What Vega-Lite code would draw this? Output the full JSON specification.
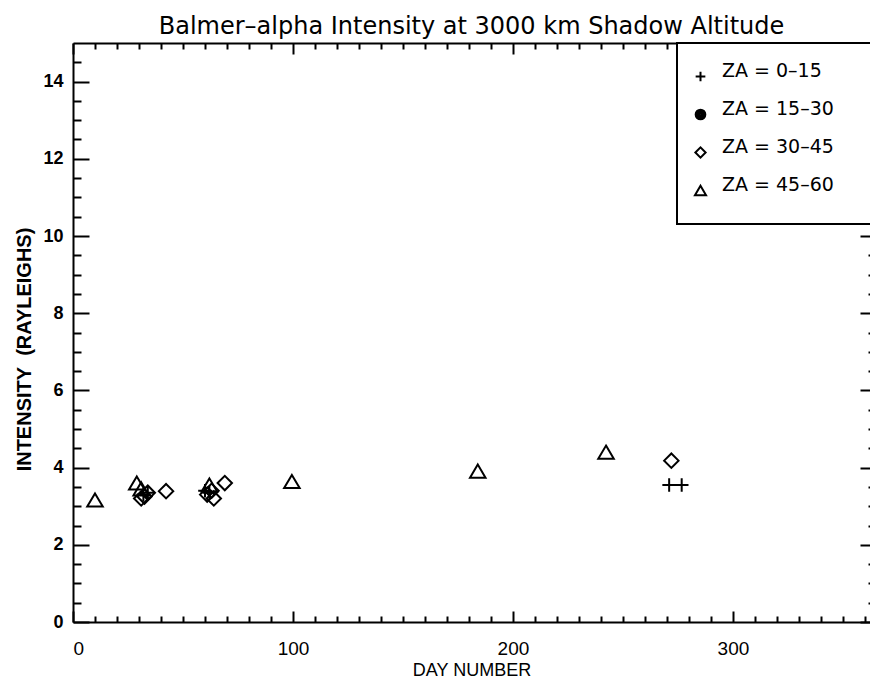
{
  "$schema": "https://vega.github.io/schema/vega-lite/v6.json",
  "width": 797,
  "height": 579,
  "autosize": {"type": "none"},
  "padding": {"left": 73, "top": 43, "right": 0, "bottom": 56},
  "background": "white",
  "title": {
    "text": "Balmer–alpha Intensity at 3000 km Shadow Altitude",
    "font": "DejaVu Sans", "fontSize": 24, "fontWeight": "normal",
    "anchor": "middle", "baseline": "alphabetic", "offset": -16, "color": "black"
  },
  "config": {
    "view": {"stroke": null},
    "axis": {"grid": false, "domainColor": "black", "domainWidth": 2, "tickColor": "black", "tickWidth": 2, "labelColor": "black", "titleColor": "black"},
    "legend": {"strokeWidth": 2}
  },
  "data": {
    "values": [
      {"day": 10, "intensity": 3.16, "za": "ZA = 45–60"},
      {"day": 29, "intensity": 3.6, "za": "ZA = 45–60"},
      {"day": 31, "intensity": 3.45, "za": "ZA = 45–60"},
      {"day": 31, "intensity": 3.2, "za": "ZA = 30–45"},
      {"day": 32.5, "intensity": 3.25, "za": "ZA = 30–45"},
      {"day": 34, "intensity": 3.35, "za": "ZA = 30–45"},
      {"day": 32, "intensity": 3.3, "za": "ZA = 0–15"},
      {"day": 34, "intensity": 3.35, "za": "ZA = 0–15"},
      {"day": 42.3, "intensity": 3.39, "za": "ZA = 30–45"},
      {"day": 62, "intensity": 3.55, "za": "ZA = 45–60"},
      {"day": 60, "intensity": 3.4, "za": "ZA = 0–15"},
      {"day": 62, "intensity": 3.35, "za": "ZA = 0–15"},
      {"day": 61, "intensity": 3.3, "za": "ZA = 30–45"},
      {"day": 64, "intensity": 3.2, "za": "ZA = 30–45"},
      {"day": 63, "intensity": 3.4, "za": "ZA = 30–45"},
      {"day": 69, "intensity": 3.6, "za": "ZA = 30–45"},
      {"day": 99.5, "intensity": 3.64, "za": "ZA = 45–60"},
      {"day": 184, "intensity": 3.91, "za": "ZA = 45–60"},
      {"day": 242.3, "intensity": 4.4, "za": "ZA = 45–60"},
      {"day": 272, "intensity": 4.18, "za": "ZA = 30–45"},
      {"day": 271, "intensity": 3.55, "za": "ZA = 0–15"},
      {"day": 276.7, "intensity": 3.55, "za": "ZA = 0–15"}
    ]
  },
  "layer": [
    {
      "mark": {"type": "point", "filled": false, "stroke": "black", "strokeWidth": 2, "size": 256, "opacity": 1},
      "encoding": {
        "x": {
          "field": "day", "type": "quantitative",
          "scale": {"domain": [0, 362.3], "nice": false, "zero": false},
          "axis": {"orient": "bottom", "values": [0, 100, 200, 300], "tickSize": -11, "labelPadding": 28,
                   "labelFont": "Liberation Sans", "labelFontSize": 19, "labelFontWeight": "normal",
                   "title": "DAY NUMBER", "titleFont": "Liberation Sans", "titleFontSize": 18, "titleFontWeight": "normal", "titlePadding": 3}
        },
        "y": {
          "field": "intensity", "type": "quantitative",
          "scale": {"domain": [0, 15], "nice": false, "zero": false},
          "axis": {"orient": "left", "values": [0, 2, 4, 6, 8, 10, 12, 14], "tickSize": -16, "labelPadding": 26,
                   "labelFont": "Liberation Sans", "labelFontSize": 18, "labelFontWeight": "bold",
                   "title": "INTENSITY\u00a0\u00a0(RAYLEIGHS)", "titleFont": "Liberation Sans", "titleFontSize": 20, "titleFontWeight": "bold", "titlePadding": 8, "titleY": 306}
        },
        "shape": {
          "field": "za", "type": "nominal",
          "scale": {
            "domain": ["ZA = 0–15", "ZA = 15–30", "ZA = 30–45", "ZA = 45–60"],
            "range": [
              "M-0.85,0H0.85M0,-0.85V0.85",
              "M-0.85,0A0.85,0.85,0,1,0,0.85,0A0.85,0.85,0,1,0,-0.85,0ZM-0.52,0A0.52,0.52,0,1,0,0.52,0A0.52,0.52,0,1,0,-0.52,0ZM-0.2,0A0.2,0.2,0,1,0,0.2,0A0.2,0.2,0,1,0,-0.2,0Z",
              "M-0.9,0L0,-0.9L0.9,0L0,0.9Z",
              "M0,-0.82L0.97,0.82L-0.97,0.82Z"
            ]
          },
          "legend": {
            "orient": "none", "legendX": 604, "legendY": 0,
            "title": " ", "titleOrient": "right", "titlePadding": 30, "titleFontSize": 19,
            "strokeColor": "black", "fillColor": "white", "padding": 24,
            "symbolSize": 130, "symbolStrokeWidth": 2, "symbolStrokeColor": "black", "symbolOffset": -10,
            "labelFont": "DejaVu Sans", "labelFontSize": 19, "labelColor": "black", "labelBaseline": "alphabetic",
            "labelOffset": 12, "rowPadding": 13,
            "encode": {"symbols": {"update": {"stroke": {"value": "black"}, "strokeWidth": {"value": 2}}}}
          }
        }
      }
    },
    {
      "mark": {"type": "point", "opacity": 0},
      "encoding": {
        "x": {"field": "day", "type": "quantitative",
              "axis": {"orient": "bottom", "domain": false, "labels": false, "title": null, "tickSize": -6,
                       "values": [10,20,30,40,50,60,70,80,90,110,120,130,140,150,160,170,180,190,210,220,230,240,250,260,270,280,290,310,320,330,340,350,360]}},
        "y": {"field": "intensity", "type": "quantitative",
              "axis": {"orient": "left", "domain": false, "labels": false, "title": null, "tickSize": -8,
                       "values": [0.5,1,1.5,2.5,3,3.5,4.5,5,5.5,6.5,7,7.5,8.5,9,9.5,10.5,11,11.5,12.5,13,13.5,14.5]}}
      }
    },
    {
      "mark": {"type": "point", "opacity": 0},
      "encoding": {
        "x": {"field": "day", "type": "quantitative",
              "axis": {"orient": "top", "labels": false, "title": null, "tickSize": -11, "values": [0, 100, 200, 300]}},
        "y": {"field": "intensity", "type": "quantitative",
              "axis": {"orient": "right", "offset": 6, "labels": false, "title": null, "tickSize": -16, "values": [0, 2, 4, 6, 8, 10, 12, 14]}}
      }
    },
    {
      "mark": {"type": "point", "opacity": 0},
      "encoding": {
        "x": {"field": "day", "type": "quantitative",
              "axis": {"orient": "top", "domain": false, "labels": false, "title": null, "tickSize": -6,
                       "values": [10,20,30,40,50,60,70,80,90,110,120,130,140,150,160,170,180,190,210,220,230,240,250,260,270,280,290,310,320,330,340,350,360]}},
        "y": {"field": "intensity", "type": "quantitative",
              "axis": {"orient": "right", "offset": 6, "domain": false, "labels": false, "title": null, "tickSize": -8,
                       "values": [0.5,1,1.5,2.5,3,3.5,4.5,5,5.5,6.5,7,7.5,8.5,9,9.5,10.5,11,11.5,12.5,13,13.5,14.5]}}
      }
    }
  ],
  "resolve": {"axis": {"x": "independent", "y": "independent"}}
}
